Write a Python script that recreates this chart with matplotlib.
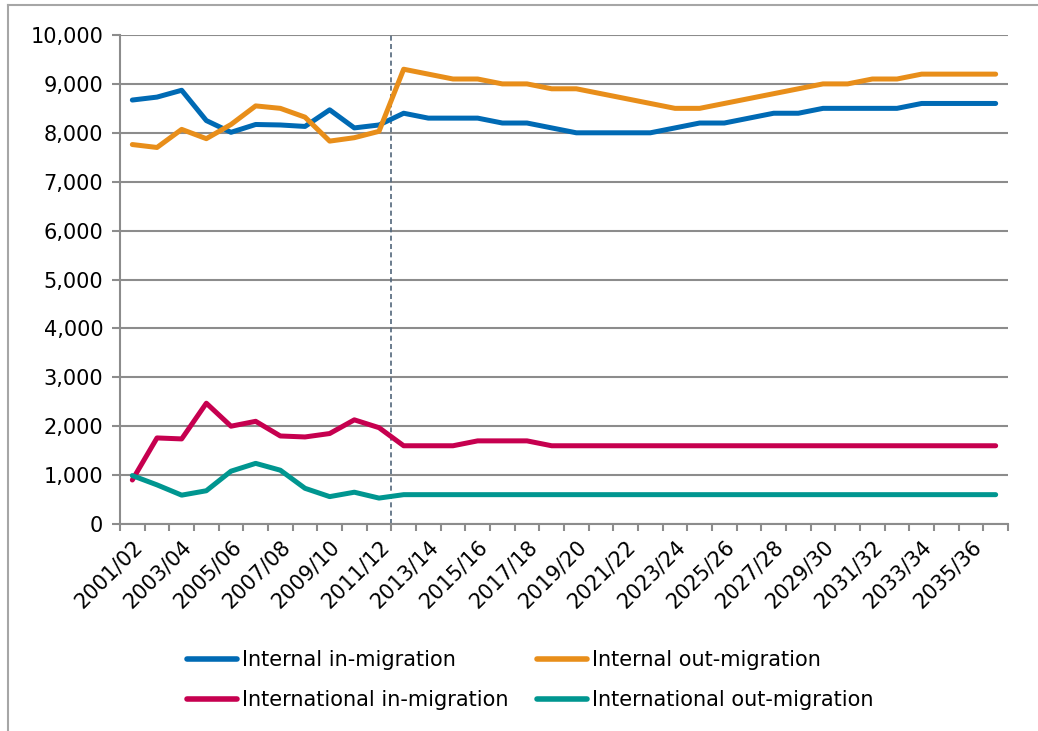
import matplotlib
matplotlib.use("Agg")
import matplotlib.pyplot as plt
from matplotlib.lines import Line2D
from matplotlib.ticker import FuncFormatter, FixedLocator

# Financial years shown on the category axis
years = ['2001/02', '2002/03', '2003/04', '2004/05', '2005/06', '2006/07',
         '2007/08', '2008/09', '2009/10', '2010/11', '2011/12', '2012/13',
         '2013/14', '2014/15', '2015/16', '2016/17', '2017/18', '2018/19',
         '2019/20', '2020/21', '2021/22', '2022/23', '2023/24', '2024/25',
         '2025/26', '2026/27', '2027/28', '2028/29', '2029/30', '2030/31',
         '2031/32', '2032/33', '2033/34', '2034/35', '2035/36', '2036/37']

internal_in = [8670, 8730, 8870, 8250, 8010, 8170, 8160, 8130, 8470, 8100,
               8160, 8400, 8300, 8300, 8300, 8200, 8200, 8100, 8000, 8000,
               8000, 8000, 8100, 8200, 8200, 8300, 8400, 8400, 8500, 8500,
               8500, 8500, 8600, 8600, 8600, 8600]
internal_out = [7760, 7700, 8070, 7880, 8170, 8550, 8500, 8320, 7830, 7900,
                8030, 9300, 9200, 9100, 9100, 9000, 9000, 8900, 8900, 8800,
                8700, 8600, 8500, 8500, 8600, 8700, 8800, 8900, 9000, 9000,
                9100, 9100, 9200, 9200, 9200, 9200]
intl_in = [900, 1760, 1740, 2470, 2000, 2100, 1800, 1780, 1850, 2130,
           1970, 1600, 1600, 1600, 1700, 1700, 1700, 1600, 1600, 1600,
           1600, 1600, 1600, 1600, 1600, 1600, 1600, 1600, 1600, 1600,
           1600, 1600, 1600, 1600, 1600, 1600]
intl_out = [990, 800, 590, 680, 1080, 1240, 1100, 730, 560, 650,
            530, 600, 600, 600, 600, 600, 600, 600, 600, 600,
            600, 600, 600, 600, 600, 600, 600, 600, 600, 600,
            600, 600, 600, 600, 600, 600]

plt.rcParams['font.family'] = ['DejaVu Sans']
plt.rcParams['font.size'] = 15

W, H = 1038, 731
fig = plt.figure(figsize=(W / 100, H / 100), dpi=100)
ax = fig.add_axes([120 / W, 1 - 524 / H, 888 / W, 489 / H])

grey = '#8c8c8c'
x = list(range(len(years)))
lw = 3.6
l1, = ax.plot(x, internal_in, color='#006AB4', lw=lw, solid_capstyle='round', solid_joinstyle='round')
l2, = ax.plot(x, internal_out, color='#E88E1A', lw=lw, solid_capstyle='round', solid_joinstyle='round')
l3, = ax.plot(x, intl_in, color='#C6004F', lw=lw, solid_capstyle='round', solid_joinstyle='round')
l4, = ax.plot(x, intl_out, color='#009690', lw=lw, solid_capstyle='round', solid_joinstyle='round')

# Boundary between estimates and projections
ax.axvline(10.5, color='#52667a', lw=1.2, ls=(0, (3, 2)), zorder=1)

ax.set_xlim(-0.5, len(years) - 0.5)
ax.set_ylim(0, 10000)
ax.set_yticks(range(0, 10001, 1000))
ax.yaxis.set_major_formatter(FuncFormatter(lambda v, p: f'{int(v):,}'))
ax.grid(axis='y', color=grey, lw=1.5, zorder=0)
ax.set_axisbelow(True)

# Tick marks sit between categories; labels on every other category
ax.xaxis.set_major_locator(FixedLocator([i - 0.5 for i in range(len(years) + 1)]))
ax.xaxis.set_major_formatter(FuncFormatter(lambda v, p: ''))
ax.set_xticks(x[::2], minor=True)
ax.set_xticklabels(years[::2], minor=True, rotation=45, ha='right',
                   va='top', rotation_mode='anchor')
ax.tick_params(axis='x', which='minor', length=0, pad=9)
ax.tick_params(axis='x', which='major', length=5, width=1.5, color=grey)
ax.tick_params(axis='y', length=6, width=1.5, color=grey, pad=6)

for side in ['top', 'right']:
    ax.spines[side].set_visible(False)
for side in ['left', 'bottom']:
    ax.spines[side].set_color(grey)
    ax.spines[side].set_linewidth(1.5)

leg = fig.legend([l1, l3, l2, l4],
                 ['Internal in-migration', 'International in-migration',
                  'Internal out-migration', 'International out-migration'],
                 ncol=2, loc='center', bbox_to_anchor=(530 / W, 1 - 680 / H),
                 frameon=False, handlelength=2.4, handletextpad=0.25,
                 columnspacing=1.35, labelspacing=0.98)
for h in leg.legend_handles:
    h.set_linewidth(4.0)

# Outer chart border (top and left edges only)
fig.add_artist(Line2D([8 / W, 1], [1 - 5 / H, 1 - 5 / H], color='#a6a6a6', lw=1.5))
fig.add_artist(Line2D([8 / W, 8 / W], [0, 1 - 5 / H], color='#a6a6a6', lw=1.5))

fig.savefig('out.png', dpi=100)
